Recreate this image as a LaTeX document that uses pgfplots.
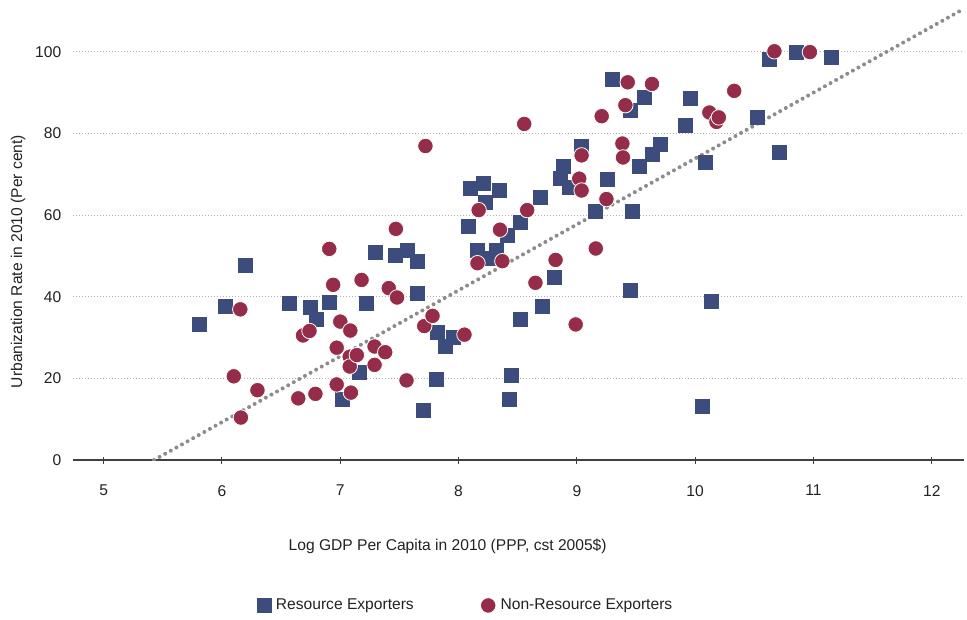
\documentclass[border=0pt]{standalone}
\usepackage{pgfplots}
\pgfplotsset{compat=1.18}
\usepackage{pgfplotstable}
\usetikzlibrary{calc}
\usepackage{fontspec}
\setmainfont{Liberation Sans}
\definecolor{navy}{HTML}{3C4C7C}
\definecolor{crimson}{HTML}{952D4A}
\definecolor{txt}{HTML}{222222}

\pgfplotstableread{
x y
5.81 33.3
6.03 37.7
6.20 47.6
6.57 38.3
6.75 37.3
6.80 34.5
6.91 38.5
7.02 14.9
7.16 21.4
7.22 38.3
7.30 50.9
7.47 50.0
7.57 51.3
7.65 48.6
7.65 40.7
7.70 12.2
7.81 19.7
7.82 31.2
7.89 27.8
7.96 30.0
8.08 57.1
8.10 66.5
8.16 51.3
8.21 67.7
8.23 63.0
8.26 49.3
8.32 51.3
8.35 66.1
8.41 54.9
8.43 14.7
8.45 20.8
8.52 58.1
8.52 34.3
8.69 64.2
8.71 37.5
8.81 44.6
8.86 68.9
8.89 71.8
8.94 66.8
9.04 76.7
9.16 60.8
9.26 68.6
9.30 93.1
9.45 85.6
9.45 41.4
9.47 60.8
9.53 71.8
9.57 88.7
9.64 74.9
9.71 77.2
9.92 81.8
9.96 88.5
10.06 13.0
10.09 72.8
10.14 38.9
10.53 83.8
10.63 98.0
10.71 75.4
10.86 99.8
11.15 98.5
}\resource

\pgfplotstableread{
x y
6.10 20.5
6.155 36.9
6.16 10.4
6.30 17.1
6.645 15.1
6.685 30.5
6.74 31.6
6.79 16.2
6.907 51.7
6.94 42.9
6.97 27.5
6.97 18.5
7.00 33.9
7.08 25.3
7.08 22.9
7.085 31.7
7.09 16.5
7.14 25.7
7.18 44.1
7.29 27.8
7.29 23.3
7.38 26.4
7.41 42.1
7.47 56.6
7.48 39.8
7.56 19.5
7.71 32.8
7.72 76.9
7.78 35.3
8.05 30.7
8.16 48.2
8.17 61.2
8.35 56.4
8.37 48.7
8.555 82.3
8.58 61.2
8.65 43.4
8.82 49.0
8.99 33.2
9.02 68.9
9.04 74.6
9.04 66.0
9.16 51.8
9.21 84.2
9.25 63.9
9.385 77.5
9.39 74.1
9.41 86.9
9.43 92.5
9.635 92.1
10.12 85.1
10.18 82.8
10.20 83.9
10.33 90.4
10.67 100.1
10.97 99.9
}\nonresource

\begin{document}
\begin{tikzpicture}[font=\fontsize{11.7}{14}\selectfont, text=txt]
\begin{axis}[
  x=88.725pt, y=3.0625pt,
  xmin=4.74, xmax=12.27, ymin=0, ymax=112,
  axis x line=bottom, axis y line=left,
  x axis line style={-, draw=black!75, line width=1pt},
  y axis line style={draw=none},
  xtick={5,...,12}, ytick={0,20,...,100},
  tick align=center,
  major tick length=5.25pt,
  xtick style={draw=black!75, line width=0.75pt},
  ytick style={draw=none},
  ymajorgrids,
  grid style={black!30, line width=0.75pt, dash pattern=on 0.75pt off 1.5pt},
  /pgf/number format/assume math mode=true,
  xticklabel style={anchor=north, inner sep=0pt, yshift=-16pt},
  yticklabel style={anchor=east, inner sep=0pt, xshift=-5.9pt},
  xlabel={Log GDP Per Capita in 2010 (PPP, cst 2005\$)},
  ylabel={Urbanization Rate in 2010 (Per cent)},
  xlabel style={at={(axis description cs:0.4207,-0.188)}, anchor=center, inner sep=0pt},
  ylabel style={at={(axis description cs:-0.0616,0.434)}, anchor=center, rotate=0, inner sep=0pt},
  legend style={at={(axis description cs:0.207,-0.318)}, anchor=west, draw=none, fill=none,
    legend columns=2, inner sep=0pt, outer sep=0pt,
    /tikz/every odd column/.append style={column sep=1.5pt},
    /tikz/every even column/.append style={column sep=48pt}},
  legend image code/.code={\draw[#1] plot coordinates {(0pt,0pt)};},
]
\coordinate (o) at (axis cs:4.74,0);
\addplot[forget plot, draw=black!45, line width=3pt, line cap=round, dash pattern=on 0pt off 4.8pt]
  coordinates {(5.4256,0) (12.253,110.2)};
\addplot[only marks, mark=square*, mark size=5.25pt, color=navy,
  mark options={draw=navy, fill=navy, line width=0pt}] table[x=x,y=y] {\resource};
\addlegendentry{Resource Exporters}
\addplot[only marks, mark=*, mark size=5.8pt, color=crimson,
  mark options={draw=white, line width=0.6pt, fill=crimson}] table[x=x,y=y] {\nonresource};
\addlegendentry{Non-Resource Exporters}
\end{axis}
\pgfresetboundingbox
\path[use as bounding box] ($(o)+(-54.675pt,-119.25pt)$) rectangle ($(o)+(670.575pt,345pt)$);
\end{tikzpicture}
\end{document}
